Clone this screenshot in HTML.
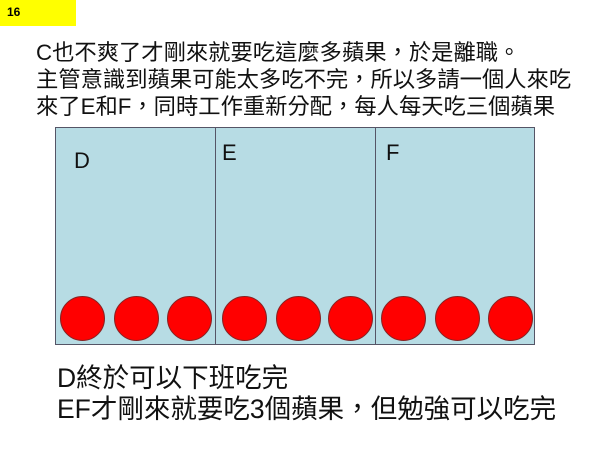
<!DOCTYPE html>
<html><head><meta charset="utf-8"><style>
body{margin:0;width:600px;height:450px;background:#fff;position:relative;overflow:hidden;font-family:"Liberation Sans","Noto Sans CJK TC",sans-serif;}
.y{position:absolute;left:0;top:0;width:76px;height:26px;background:#ffff00;font-size:12px;font-weight:bold;line-height:24px;padding-left:7px;box-sizing:border-box}
.t{position:absolute;left:36px;top:39px;font-size:22.3px;line-height:27px;color:#111;white-space:nowrap}
.tb{position:absolute;left:55px;top:127px;width:480px;height:218px;background:#b7dce4;border:1px solid #556;box-sizing:border-box}
.d{position:absolute;top:0;width:1px;height:100%;background:#556}
.l{position:absolute;font-size:22px;color:#111}
.c{position:absolute;top:168px;width:45px;height:45px;border-radius:50%;background:#f00;border:1px solid #822;box-sizing:border-box}
.b{position:absolute;left:57px;top:363px;font-size:26.5px;line-height:31px;color:#111;white-space:nowrap}
</style></head><body>
<div class="y">16</div>
<div class="t">C也不爽了才剛來就要吃這麼多蘋果，於是離職。<br>主管意識到蘋果可能太多吃不完，所以多請一個人來吃<br>來了E和F，同時工作重新分配，每人每天吃三個蘋果</div>
<div class="tb">
<div class="d" style="left:159px"></div><div class="d" style="left:319px"></div>
<div class="l" style="left:18px;top:20px">D</div>
<div class="l" style="left:166px;top:12px">E</div>
<div class="l" style="left:330px;top:12px">F</div>
<div class="c" style="left:4px"></div><div class="c" style="left:58px"></div><div class="c" style="left:111px"></div>
<div class="c" style="left:166px"></div><div class="c" style="left:220px"></div><div class="c" style="left:272px"></div>
<div class="c" style="left:325px"></div><div class="c" style="left:379px"></div><div class="c" style="left:432px"></div>
</div>
<div class="b">D終於可以下班吃完<br>EF才剛來就要吃3個蘋果，但勉強可以吃完</div>
</body></html>
